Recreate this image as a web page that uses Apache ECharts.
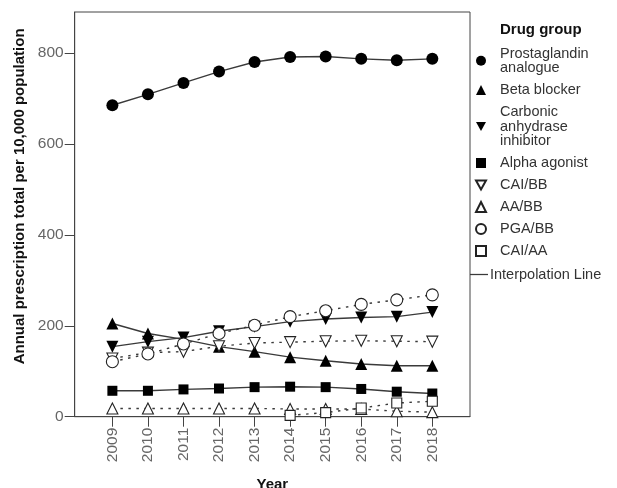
<!DOCTYPE html>
<html>
<head>
<meta charset="utf-8">
<script src="https://cdn.jsdelivr.net/npm/echarts@6/dist/echarts.min.js"></script>
<style>
html,body{margin:0;padding:0;background:#fff;}
#chart{width:617px;height:488px;}
</style>
</head>
<body>
<div id="chart"></div>
<script>
var years = [2009, 2010, 2011, 2012, 2013, 2014, 2015, 2016, 2017, 2018];
var yTicks = [0, 200, 400, 600, 800];
var prostaglandin = [685, 709, 734, 759, 780, 791, 792, 787, 784, 787];
var betaBlocker = [205, 183, 170, 154, 143, 131, 123, 116, 112, 112];
var carbonic = [154, 165, 174, 188, 198, 209, 215, 218, 220, 230];
var alphaAgonist = [57, 57, 60, 62, 65, 66, 65, 61, 55, 51];
var caiBb = [128, 141, 143, 155, 162, 164, 166, 167, 166, 165];
var aaBb = [18, 18, 18, 18, 18, 17, 17, 17, 12, 10];
var pgaBb = [121, 138, 160, 183, 201, 220, 233, 247, 257, 268];
var caiAa = [null, null, null, null, null, 3, 9, 19, 30, 34];

function pairs(arr) {
  var out = [];
  for (var i = 0; i < years.length; i++) {
    if (arr[i] !== null) out.push([years[i], arr[i]]);
  }
  return out;
}

var invTri = 'path://M0,0 L10,0 L5,9 Z';
var LINE = '#3a3a3a';
var DOT = [2.5, 5.5];
var FONT = 'Liberation Sans, Arial, sans-serif';

function mk(name, data, symbol, size, filled, dotted) {
  return {
    name: name,
    type: 'line',
    data: pairs(data),
    symbol: symbol,
    symbolSize: size,
    showSymbol: true,
    connectNulls: false,
    lineStyle: { color: LINE, width: 1.4, type: dotted ? DOT : 'solid' },
    itemStyle: filled ? { color: '#000', borderColor: '#000', borderWidth: 0 }
                      : { color: '#fff', borderColor: '#222', borderWidth: 1.1 },
    emphasis: { disabled: true },
    animation: false
  };
}

var series = [
  mk('Prostaglandin\nanalogue', prostaglandin, 'circle', 12, true, false),
  mk('Beta blocker', betaBlocker, 'triangle', 12, true, false),
  mk('Carbonic\nanhydrase\ninhibitor', carbonic, invTri, 12, true, false),
  mk('Alpha agonist', alphaAgonist, 'rect', 10, true, false),
  mk('CAI/BB', caiBb, invTri, 11, false, true),
  mk('AA/BB', aaBb, 'triangle', 11, false, true),
  mk('PGA/BB', pgaBb, 'circle', 12, false, true),
  mk('CAI/AA', caiAa, 'rect', 10, false, true),
  {
    name: 'Interpolation Line', type: 'line', data: [], symbol: 'none',
    itemStyle: { color: LINE },
    lineStyle: { color: LINE, width: 1.4 }, animation: false
  }
];

var legendNames = ['Prostaglandin\nanalogue', 'Beta blocker', 'Carbonic\nanhydrase\ninhibitor',
  'Alpha agonist', 'CAI/BB', 'AA/BB', 'PGA/BB', 'CAI/AA'];
var legendIcons = ['circle', 'triangle', invTri, 'rect', invTri, 'triangle', 'circle', 'rect'];

var chart = echarts.init(document.getElementById('chart'), null, { renderer: 'canvas' });
chart.setOption({
  backgroundColor: '#fff',
  animation: false,
  textStyle: { fontFamily: FONT },
  graphic: [{
    type: 'text', left: 500, top: 22,
    style: { text: 'Drug group', font: 'bold 15px "Liberation Sans", Arial, sans-serif', fill: '#111' }
  }],
  legend: [{
    orient: 'vertical',
    left: 470, top: 41,
    itemWidth: 10, itemHeight: 10,
    itemGap: 7,
    selectedMode: false,
    data: legendNames.map(function (n, i) { return { name: n, icon: legendIcons[i] }; }),
    textStyle: { fontSize: 14.5, lineHeight: 14.5, color: '#333', padding: [0, 0, 0, 9], fontFamily: FONT }
  }, {
    orient: 'vertical',
    left: 465, top: 262,
    itemWidth: 18, itemHeight: 10,
    selectedMode: false,
    data: [{ name: 'Interpolation Line', icon: 'path://M0,0 L20,0 L20,1.4 L0,1.4 Z', itemStyle: { color: LINE } }],
    textStyle: { fontSize: 14.5, color: '#333', padding: [0, 0, 0, -3], fontFamily: FONT }
  }],
  grid: {
    left: 74.7, right: 147, top: 12, bottom: 71.3,
    outerBoundsMode: 'none',
    containLabel: false,
    show: true, borderColor: '#444', borderWidth: 1, backgroundColor: 'transparent'
  },
  xAxis: {
    type: 'value',
    min: 2007.94, max: 2019.06,
    name: 'Year', nameLocation: 'middle', nameGap: 61,
    nameTextStyle: { fontSize: 15, fontWeight: 'bold', color: '#111' },
    axisLine: { lineStyle: { color: '#444', width: 1 } },
    axisTick: { show: true, length: 10, customValues: years, lineStyle: { color: '#444' } },
    axisLabel: { customValues: years, rotate: 90, margin: 11, fontSize: 15.5, color: '#666',
      formatter: function (v) { return String(v); } },
    splitLine: { show: false }
  },
  yAxis: {
    type: 'value',
    min: 0, max: 890, interval: 200,
    name: 'Annual prescription total per 10,000 population',
    nameLocation: 'middle', nameGap: 47,
    nameTextStyle: { fontSize: 15, fontWeight: 'bold', color: '#111', padding: [0, 0, 0, 36] },
    axisLine: { show: true, lineStyle: { color: '#444', width: 1 } },
    axisTick: { show: true, length: 10, customValues: yTicks, lineStyle: { color: '#444' } },
    axisLabel: { margin: 11, fontSize: 15.5, color: '#666', customValues: yTicks },
    splitLine: { show: false }
  },
  series: series
});
</script>
</body>
</html>
